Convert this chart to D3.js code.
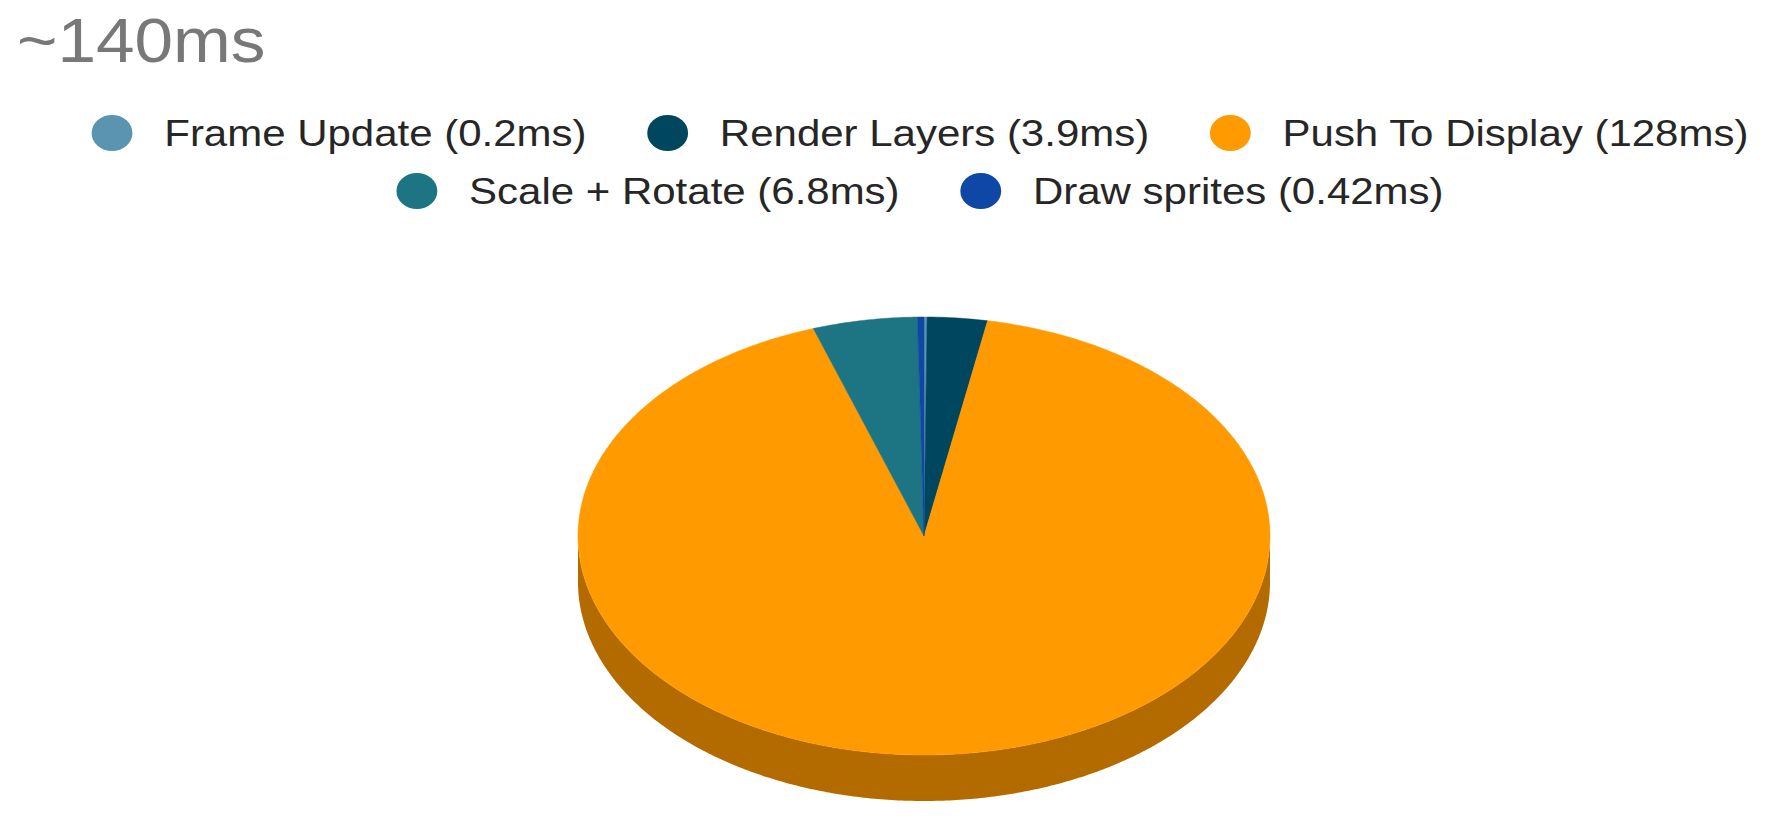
<!DOCTYPE html>
<html>
<head>
<meta charset="utf-8">
<script src="https://cdn.jsdelivr.net/npm/d3@7"></script>
<style>
  html, body { margin: 0; padding: 0; background: #ffffff; }
  svg { display: block; }
</style>
</head>
<body>
<script>
// ---- data ----
const titleText = "~140ms";
const categories = ["Frame Update", "Render Layers", "Push To Display", "Scale + Rotate", "Draw sprites"];
const valueLabels = ["0.2ms", "3.9ms", "128ms", "6.8ms", "0.42ms"];
const values = [0.2, 3.9, 128, 6.8, 0.42];
const colors = ["#5b94b1", "#00465f", "#ff9a00", "#1d7584", "#0e47a6"];
const legendRows = [[0, 1, 2], [3, 4]];

// ---- layout ----
const W = 1780, H = 824;
const sx = 1.135;               // horizontal stretch seen in reference
const pieCx = 924, pieCy = 536, rx = 346, ry = 219, depth = 46;
const sideColor = "#b36b00";

const svg = d3.select("body").append("svg")
  .attr("width", W).attr("height", H)
  .attr("font-family", "'Liberation Sans', Arial, sans-serif");

// title
svg.append("text")
  .attr("transform", `translate(17,62) scale(1.1,1)`)
  .attr("font-size", 63)
  .attr("fill", "#787878")
  .text(titleText);

// legend
const legendG = svg.append("g").attr("transform", `scale(${sx},1)`);
const centerU = 920 / sx;
const rowY = [133, 191];
const symR = 18, textOffset = 64, itemGap = 53.5;
legendRows.forEach((row, ri) => {
  const items = row.map(i => {
    const g = legendG.append("g");
    g.append("ellipse").attr("cx", symR).attr("cy", 0).attr("rx", symR).attr("ry", symR).attr("fill", colors[i]);
    const t = g.append("text")
      .attr("x", textOffset).attr("y", 12.5)
      .attr("font-size", 37)
      .attr("fill", "#262626")
      .text(`${categories[i]} (${valueLabels[i]})`);
    const w = textOffset + t.node().getComputedTextLength();
    return { g, w };
  });
  const total = d3.sum(items, d => d.w) + itemGap * (items.length - 1);
  let x = centerU - total / 2;
  items.forEach(it => {
    it.g.attr("transform", `translate(${x},${rowY[ri]})`);
    x += it.w + itemGap;
  });
});

// pie (3D-like ellipse projection)
const pie = d3.pie().sort(null).value(d => d).startAngle(0).endAngle(2 * Math.PI);
const arcs = pie(values);
const px = a => pieCx + rx * Math.sin(a);
const py = a => pieCy - ry * Math.cos(a);

function arcPoints(a0, a1, dy) {
  const n = Math.max(2, Math.ceil((a1 - a0) / 0.01));
  return d3.range(n + 1).map(k => {
    const a = a0 + (a1 - a0) * k / n;
    return [px(a), py(a) + dy];
  });
}

const sides = svg.append("g");
arcs.forEach((d, i) => {
  const s = Math.max(d.startAngle, Math.PI / 2);
  const e = Math.min(d.endAngle, 3 * Math.PI / 2);
  if (e <= s) return;
  const topPts = arcPoints(s, e, 0);
  const botPts = arcPoints(s, e, depth).reverse();
  const pts = topPts.concat(botPts);
  sides.append("path")
    .attr("d", "M" + pts.map(p => p.join(",")).join("L") + "Z")
    .attr("fill", i === 2 ? sideColor : d3.color(colors[i]).darker(1).formatHex());
});

const tops = svg.append("g");
arcs.forEach((d, i) => {
  const pts = [[pieCx, pieCy]].concat(arcPoints(d.startAngle, d.endAngle, 0));
  tops.append("path")
    .attr("d", "M" + pts.map(p => p.join(",")).join("L") + "Z")
    .attr("fill", colors[i])
    .attr("stroke", colors[i])
    .attr("stroke-width", 0.5);
});
</script>
</body>
</html>
